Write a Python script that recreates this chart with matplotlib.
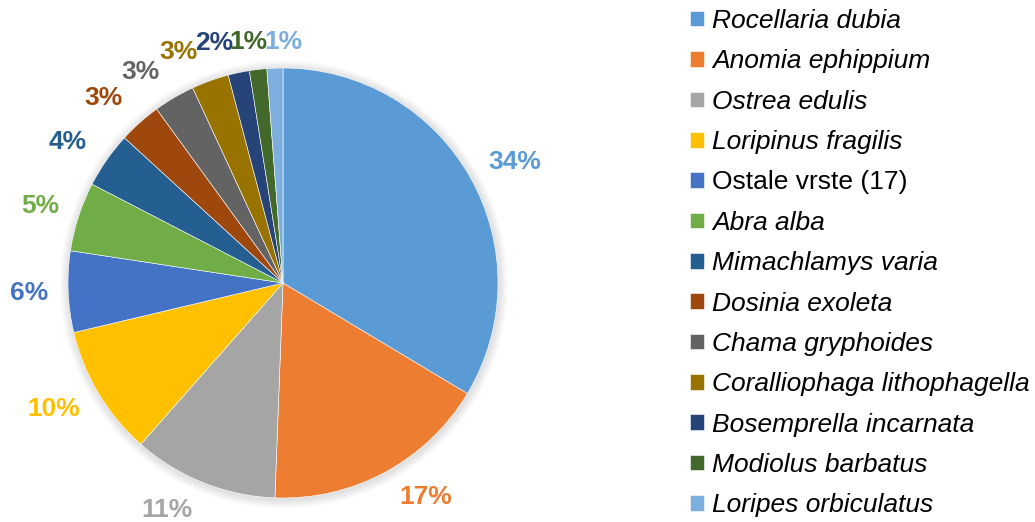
import matplotlib
matplotlib.use("Agg")
import matplotlib.pyplot as plt
from matplotlib.patches import Circle

species = ["Rocellaria dubia", "Anomia ephippium", "Ostrea edulis", "Loripinus fragilis",
           "Ostale vrste (17)", "Abra alba", "Mimachlamys varia", "Dosinia exoleta",
           "Chama gryphoides", "Coralliophaga lithophagella", "Bosemprella incarnata",
           "Modiolus barbatus", "Loripes orbiculatus"]
shares = [33.6, 17.0, 10.9, 9.8, 6.1, 5.2, 4.2, 3.2, 3.1, 2.8, 1.6, 1.3, 1.2]
italic = [True, True, True, True, False, True, True, True, True, True, True, True, True]
colors = ["#5B9BD5", "#ED7D31", "#A5A5A5", "#FFC000", "#4472C4", "#70AD47", "#255E91",
          "#9E480E", "#636363", "#997300", "#264478", "#43682B", "#7CAFDD"]

# label placement (data units of the unit pie), layout only
label_xy = [(1.079, 0.563), (0.665, -0.995), (-0.54, -1.056), (-1.066, -0.586),
            (-1.181, -0.047), (-1.13, 0.358), (-1.0, 0.656), (-0.837, 0.860),
            (-0.665, 0.981), (-0.488, 1.076), (-0.321, 1.116), (-0.160, 1.121),
            (0.003, 1.121)]

plt.rcParams['font.family'] = ['Liberation Sans', 'DejaVu Sans']

W, H = 1035, 522
fig = plt.figure(figsize=(W / 100, H / 100), dpi=100)
ax = fig.add_axes([68 / W, 24 / H, 430 / W, 430 / H])

# soft shadow
for i in range(5):
    ax.add_patch(Circle((0.004, -0.006), 1.0 + 0.008 * (i + 1), color="black",
                        alpha=0.025, lw=0, zorder=0, clip_on=False))

wedges, texts, autotexts = ax.pie(
    shares, colors=colors, startangle=90, counterclock=False,
    autopct='%.0f%%', pctdistance=1.2,
    wedgeprops=dict(edgecolor="white", linewidth=0.4),
    textprops=dict(fontsize=19, fontweight='bold'))
for t, c, xy in zip(autotexts, colors, label_xy):
    t.set_color(c)
    t.set_position(xy)
    t.set_clip_on(False)
ax.set_xlim(-1, 1)
ax.set_ylim(-1, 1)
ax.set_aspect('equal')
ax.axis('off')

leg = fig.legend(wedges, species, loc='upper left', bbox_to_anchor=(690 / W, 1 - 9 / H),
                 frameon=False, fontsize=19, handlelength=0.53, handleheight=0.53,
                 handletextpad=0.3, labelspacing=0.62, borderaxespad=0, borderpad=0)
for txt, it in zip(leg.get_texts(), italic):
    if it:
        txt.set_style('italic')

fig.savefig("out.png", dpi=100)
